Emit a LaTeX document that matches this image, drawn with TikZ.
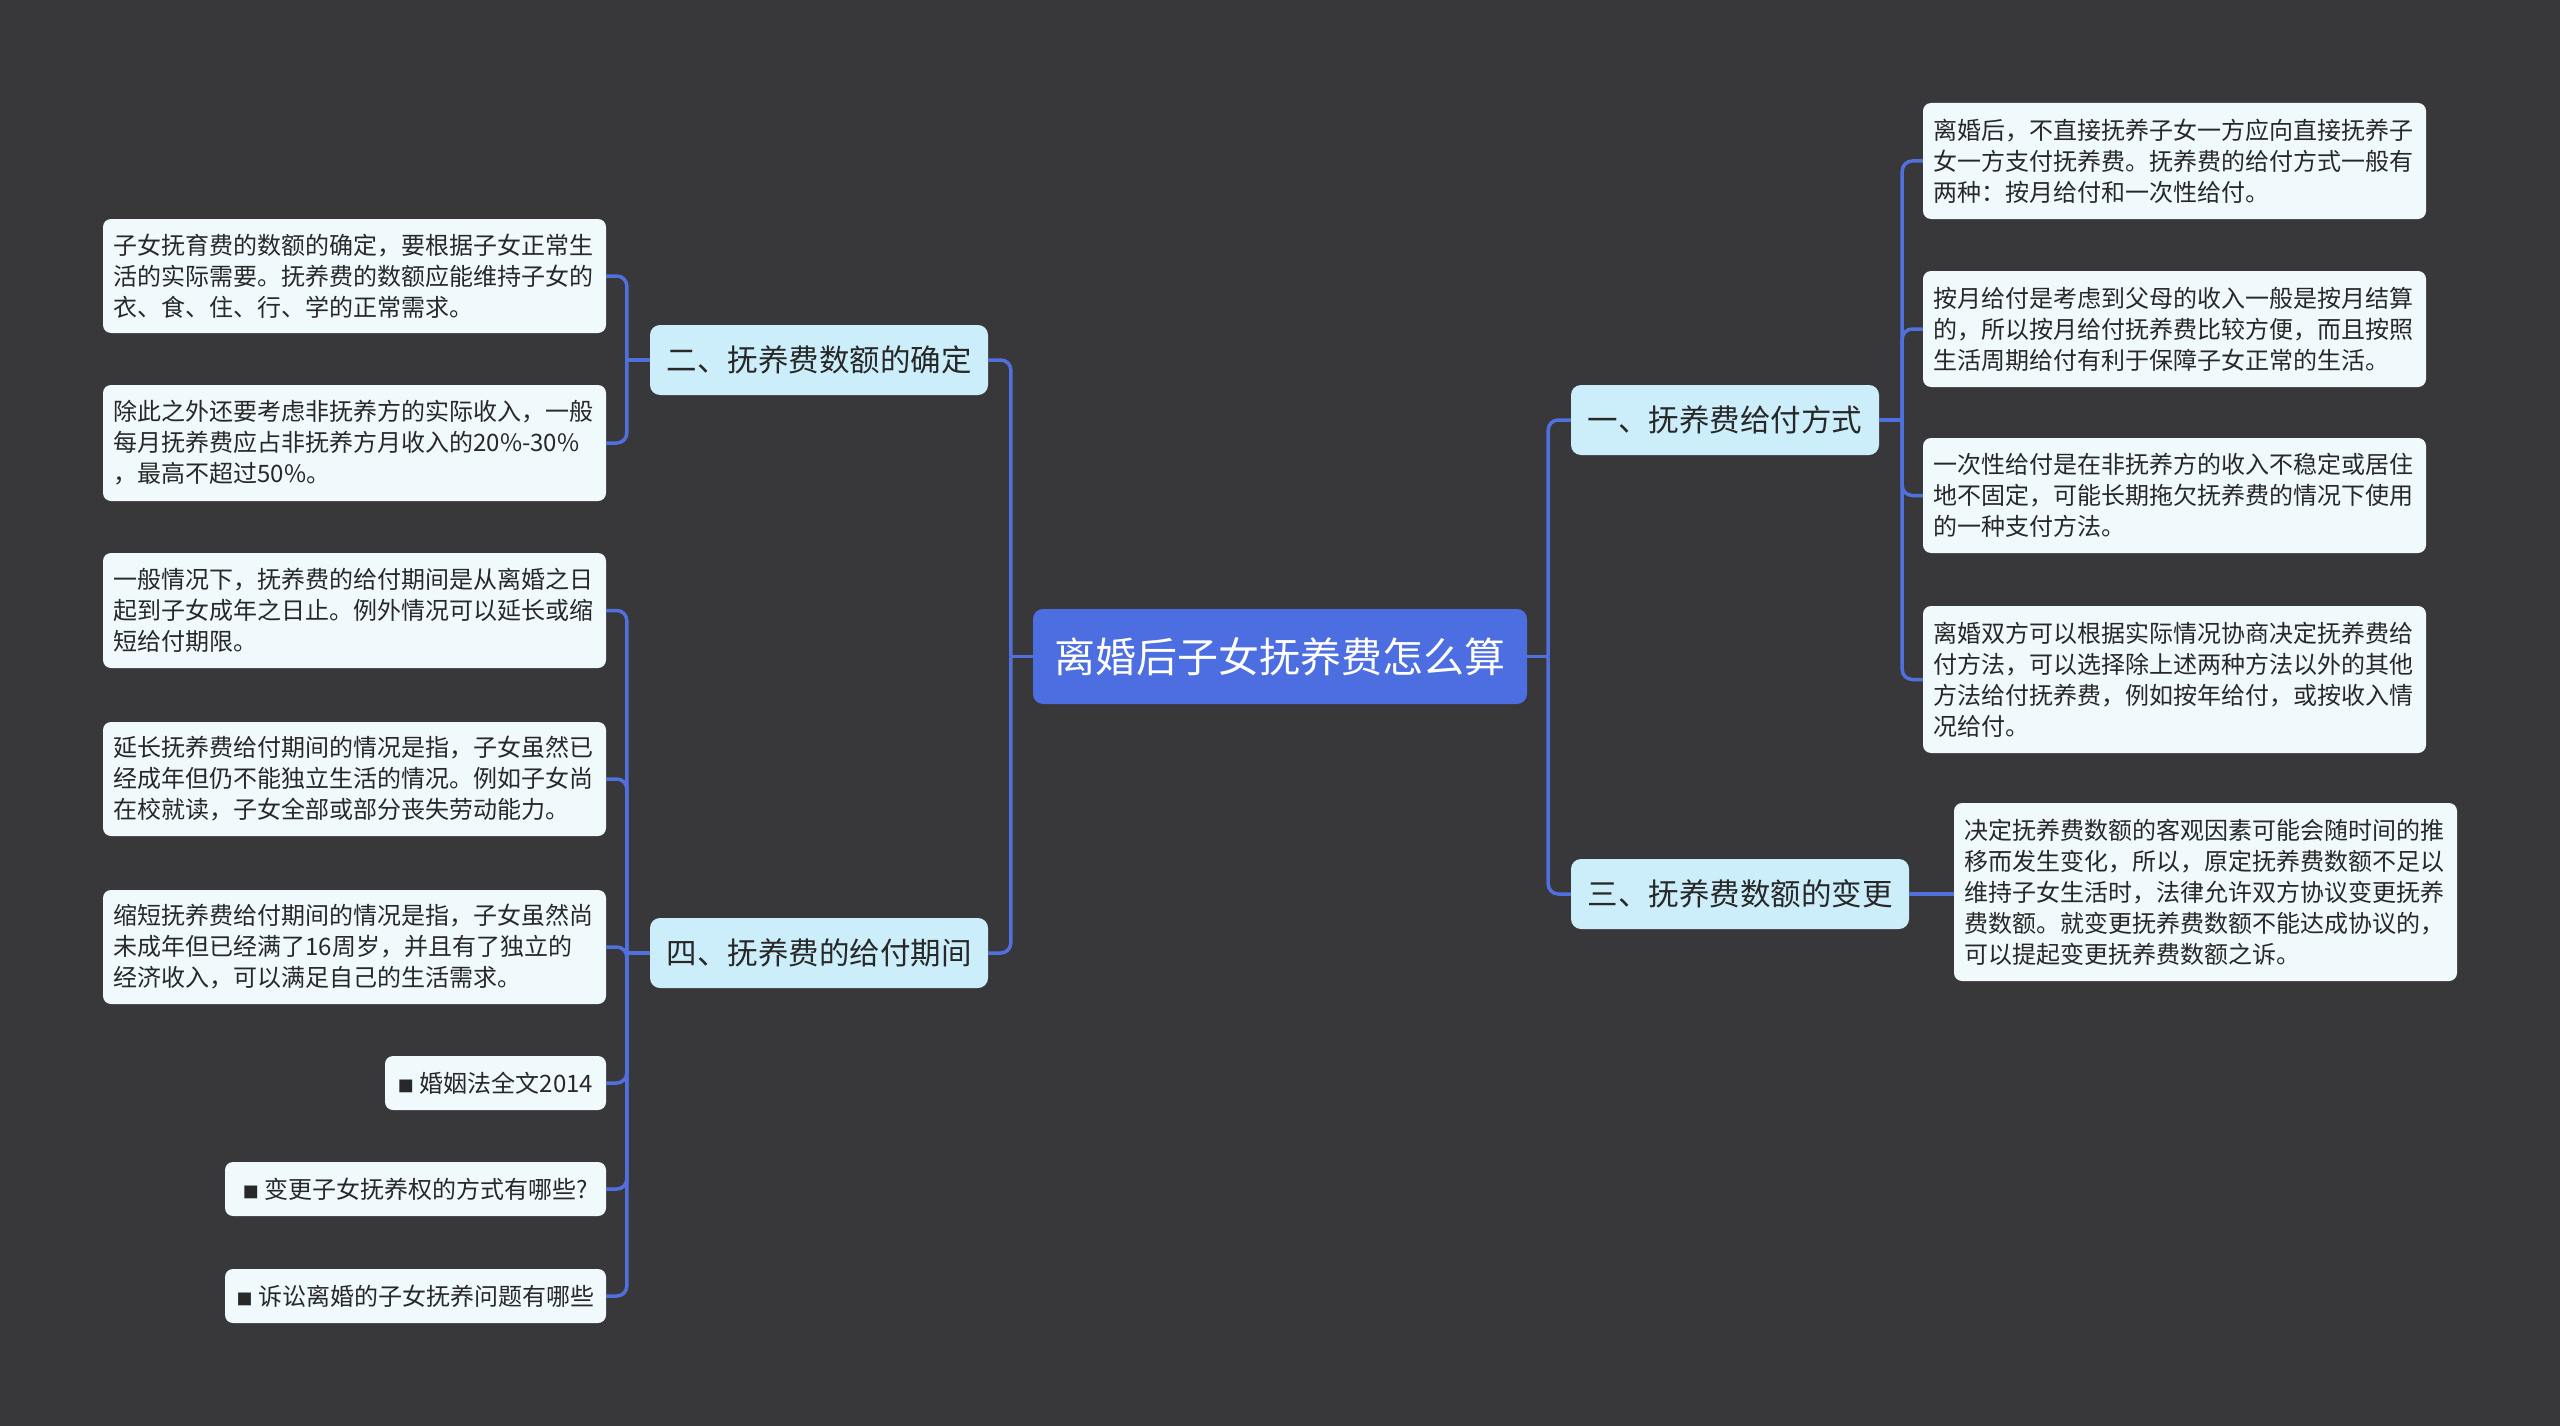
\documentclass[tikz,border=0pt]{standalone}
\usepackage{fontspec}
\setmainfont{Noto Sans CJK SC}
\usetikzlibrary{calc}
\definecolor{bgc}{RGB}{56,55,58}
\definecolor{rootfill}{RGB}{76,110,224}
\definecolor{l1fill}{RGB}{204,238,251}
\definecolor{leaffill}{RGB}{240,250,253}
\definecolor{linec}{RGB}{80,112,222}
\definecolor{txtc}{RGB}{40,40,40}
\tikzset{
  rootbox/.style={rectangle, rounded corners=10pt, fill=rootfill, text=white,
    font=\fontsize{41}{48}\selectfont, minimum width=494pt, minimum height=95pt, inner sep=0pt},
  lonebox/.style={rectangle, rounded corners=10pt, fill=l1fill, text=txtc,
    font=\fontsize{30.5}{36}\selectfont, minimum height=70pt, inner sep=0pt},
  leafbox/.style={rectangle, rounded corners=8pt, fill=leaffill, text=txtc,
    font=\fontsize{24}{31}\selectfont, align=left, text width=482pt,
    inner xsep=10.5pt, inner ysep=0pt, minimum width=503pt},
  smallbox/.style={rectangle, rounded corners=8pt, fill=leaffill, text=txtc,
    font=\fontsize{24}{31}\selectfont, align=center, inner sep=0pt, minimum height=54pt},
  conn/.style={draw=linec, line width=3.5pt, rounded corners=10pt},
  stub/.style={draw=linec, line width=3.5pt}
}
\newcommand{\sq}{{\fontsize{16}{16}\selectfont ■}\hspace{6pt}}
\begin{document}
\begin{tikzpicture}[x=1pt,y=-1pt]
\fill[bgc] (0,0) rectangle (2560,1426);
\useasboundingbox (0,0) rectangle (2560,1426);

% root
\node[rootbox] (root) at (1280,656.5) {离婚后子女抚养费怎么算};

% level 1
\node[lonebox, minimum width=308pt] (n1) at (1725,420) {一、抚养费给付方式};
\node[lonebox, minimum width=338pt] (n3) at (1740,894) {三、抚养费数额的变更};
\node[lonebox, minimum width=338pt] (n2) at (819,360) {二、抚养费数额的确定};
\node[lonebox, minimum width=338pt] (n4) at (819,953) {四、抚养费的给付期间};

% left leaves
\node[leafbox, minimum height=114pt] (L1) at (354.5,276) {子女抚育费的数额的确定，要根据子女正常生\\活的实际需要。抚养费的数额应能维持子女的\\衣、食、住、行、学的正常需求。};
\node[leafbox, minimum height=116pt] (L2) at (354.5,443) {除此之外还要考虑非抚养方的实际收入，一般\\每月抚养费应占非抚养方月收入的20\%-30\%\\，最高不超过50\%。};
\node[leafbox, minimum height=115pt] (L3) at (354.5,610.5) {一般情况下，抚养费的给付期间是从离婚之日\\起到子女成年之日止。例外情况可以延长或缩\\短给付期限。};
\node[leafbox, minimum height=114pt] (L4) at (354.5,779) {延长抚养费给付期间的情况是指，子女虽然已\\经成年但仍不能独立生活的情况。例如子女尚\\在校就读，子女全部或部分丧失劳动能力。};
\node[leafbox, minimum height=114pt] (L5) at (354.5,947) {缩短抚养费给付期间的情况是指，子女虽然尚\\未成年但已经满了16周岁，并且有了独立的\\经济收入，可以满足自己的生活需求。};
\node[smallbox, minimum width=221pt] (L6) at (495.5,1083) {\sq 婚姻法全文2014};
\node[smallbox, minimum width=381pt] (L7) at (415.5,1189) {\sq 变更子女抚养权的方式有哪些?};
\node[smallbox, minimum width=381pt] (L8) at (415.5,1296) {\sq 诉讼离婚的子女抚养问题有哪些};

% right leaves
\node[leafbox, minimum height=116pt] (R1) at (2174.5,161) {离婚后，不直接抚养子女一方应向直接抚养子\\女一方支付抚养费。抚养费的给付方式一般有\\两种：按月给付和一次性给付。};
\node[leafbox, minimum height=116pt] (R2) at (2174.5,329) {按月给付是考虑到父母的收入一般是按月结算\\的，所以按月给付抚养费比较方便，而且按照\\生活周期给付有利于保障子女正常的生活。};
\node[leafbox, minimum height=115pt] (R3) at (2174.5,495.5) {一次性给付是在非抚养方的收入不稳定或居住\\地不固定，可能长期拖欠抚养费的情况下使用\\的一种支付方法。};
\node[leafbox, minimum height=147pt] (R4) at (2174.5,679.5) {离婚双方可以根据实际情况协商决定抚养费给\\付方法，可以选择除上述两种方法以外的其他\\方法给付抚养费，例如按年给付，或按收入情\\况给付。};
\node[leafbox, minimum height=178pt] (R5) at (2205.5,892) {决定抚养费数额的客观因素可能会随时间的推\\移而发生变化，所以，原定抚养费数额不足以\\维持子女生活时，法律允许双方协议变更抚养\\费数额。就变更抚养费数额不能达成协议的，\\可以提起变更抚养费数额之诉。};

% connectors: root
\coordinate (tr) at ($(root.east)+(21,0)$);
\coordinate (tl) at ($(root.west)+(-22,0)$);
\draw[stub] (root.east) -- (tr);
\draw[stub] (root.west) -- (tl);
\draw[conn] (tr) |- (n1.west);
\draw[conn] (tr) |- (n3.west);
\draw[conn] (tl) |- (n2.east);
\draw[conn] (tl) |- (n4.east);

% n1 group
\coordinate (t1) at ($(n1.east)+(23,0)$);
\draw[stub] (n1.east) -- (t1);
\foreach \c in {R1,R2,R3,R4} { \draw[conn] (t1) |- (\c.west); }

% n3 group
\draw[stub] (n3.east) -- (n3.east -| R5.west);

% n2 group
\coordinate (t2) at ($(n2.west)+(-23,0)$);
\draw[stub] (n2.west) -- (t2);
\foreach \c in {L1,L2} { \draw[conn] (t2) |- (\c.east); }

% n4 group
\coordinate (t4) at ($(n4.west)+(-23,0)$);
\draw[stub] (n4.west) -- (t4);
\foreach \c in {L3,L4,L5,L6,L7,L8} { \draw[conn] (t4) |- (\c.east); }
\end{tikzpicture}
\end{document}
